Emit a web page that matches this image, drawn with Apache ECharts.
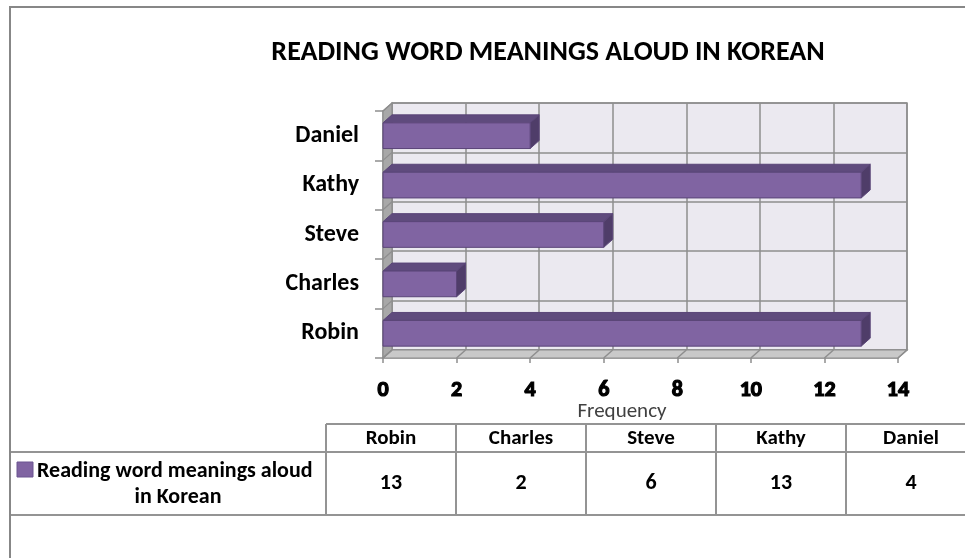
<!DOCTYPE html>
<html>
<head>
<meta charset="utf-8">
<script src="https://cdn.jsdelivr.net/npm/echarts@6/dist/echarts.min.js"></script>
<style>
html,body{margin:0;padding:0;background:#fff;}
#chart{width:965px;height:558px;}
</style>
</head>
<body>
<div id="chart"></div>
<script>
const categories = ['Robin', 'Charles', 'Steve', 'Kathy', 'Daniel'];
const values = [13, 2, 6, 13, 4];
const xTicks = [0, 2, 4, 6, 8, 10, 12, 14];
const seriesName = 'Reading word meanings aloud in Korean';
const legendLines = ['Reading word meanings aloud', 'in Korean'];
const titleText = 'READING WORD MEANINGS ALOUD IN KOREAN';
const axisTitle = 'Frequency';

const FONT = 'Carlito, Lato, "Open Sans", sans-serif';
const DX = 9, DY = 8;
const GRIDC = '#8e8e8e';
const xMin = xTicks[0], xMax = xTicks[xTicks.length - 1], xStep = xTicks[1] - xTicks[0];

const chart = echarts.init(document.getElementById('chart'));

function renderWalls(params, api) {
  const cs = params.coordSys;
  const L = cs.x, T = cs.y, R = cs.x + cs.width, B = cs.y + cs.height;
  const children = [];
  children.push({type: 'polygon', shape: {points: [[L, T], [L + DX, T - DY], [L + DX, B - DY], [L, B]]},
    style: {fill: '#a8a8a8', stroke: GRIDC, lineWidth: 1.2}});
  children.push({type: 'polygon', shape: {points: [[L, B], [L + DX, B - DY], [R + DX, B - DY], [R, B]]},
    style: {fill: '#c9c9c9', stroke: GRIDC, lineWidth: 1.2}});
  xTicks.forEach(function (t) {
    const p = api.coord([t, 0]);
    children.push({type: 'line', shape: {x1: p[0], y1: B, x2: p[0] + DX, y2: B - DY},
      style: {stroke: GRIDC, lineWidth: 1.5}});
  });
  const band = api.size([0, 1])[1];
  for (let i = 0; i <= categories.length; i++) {
    const y = B - i * band;
    children.push({type: 'line', shape: {x1: L, y1: y, x2: L + DX, y2: y - DY},
      style: {stroke: GRIDC, lineWidth: 1.2}});
  }
  return {type: 'group', children: children};
}

function renderBar(params, api) {
  const val = api.value(0), cat = api.value(1);
  const p0 = api.coord([0, cat]);
  const p1 = api.coord([val, cat]);
  const band = api.size([0, 1])[1];
  const h = band * 0.52;
  const x0 = p0[0], x1 = p1[0];
  const yt = p0[1] - h / 2, yb = p0[1] + h / 2;
  const edge = '#5a4578';
  return {
    type: 'group',
    children: [
      {type: 'polygon', shape: {points: [[x0, yt], [x1, yt], [x1 + DX, yt - DY], [x0 + DX, yt - DY]]},
        style: {fill: '#5f4b7d', stroke: edge, lineWidth: 1}},
      {type: 'polygon', shape: {points: [[x1, yt], [x1 + DX, yt - DY], [x1 + DX, yb - DY], [x1, yb]]},
        style: {fill: '#4f3d69', stroke: edge, lineWidth: 1}},
      {type: 'rect', shape: {x: x0, y: yt, width: x1 - x0, height: h},
        style: {fill: '#8064a2', stroke: edge, lineWidth: 1}}
    ]
  };
}

const tbl = {colX0: 326, colW: 130, top: 424, mid: 452, bot: 515, left: 10, right: 970};
const graphics = [];
const lineStyle = {stroke: '#949494', lineWidth: 2};
const TFONT = 'bold 22px ' + FONT;
graphics.push({type: 'rect', shape: {x: 10, y: 7, width: 1000, height: 600},
  style: {fill: null, stroke: '#878787', lineWidth: 2}, z: 10});
graphics.push({type: 'line', shape: {x1: tbl.colX0, y1: tbl.top, x2: tbl.right, y2: tbl.top}, style: lineStyle});
graphics.push({type: 'line', shape: {x1: tbl.left, y1: tbl.mid, x2: tbl.right, y2: tbl.mid}, style: lineStyle});
graphics.push({type: 'line', shape: {x1: tbl.left, y1: tbl.bot, x2: tbl.right, y2: tbl.bot}, style: lineStyle});
categories.forEach(function (c, i) {
  const x = tbl.colX0 + i * tbl.colW;
  graphics.push({type: 'line', shape: {x1: x, y1: tbl.top, x2: x, y2: tbl.bot}, style: lineStyle});
  graphics.push({type: 'text', x: x + tbl.colW / 2, y: (tbl.top + tbl.mid) / 2 + 1,
    style: {text: c, fill: '#000', font: 'bold 21px ' + FONT, textAlign: 'center', textVerticalAlign: 'middle'}});
  graphics.push({type: 'text', x: x + tbl.colW / 2, y: (tbl.mid + tbl.bot) / 2,
    style: {text: String(values[i]), fill: '#000', font: TFONT, textAlign: 'center', textVerticalAlign: 'middle'}});
});
graphics.push({type: 'rect', shape: {x: 17, y: 462, width: 16, height: 15},
  style: {fill: '#8064a2', stroke: '#6a5490', lineWidth: 1}});
graphics.push({type: 'text', x: 37, y: 471,
  style: {text: legendLines[0], fill: '#000', font: 'bold 22px ' + FONT, textAlign: 'left', textVerticalAlign: 'middle'}});
graphics.push({type: 'text', x: 178, y: 497,
  style: {text: legendLines[1], fill: '#000', font: 'bold 22px ' + FONT, textAlign: 'center', textVerticalAlign: 'middle'}});
graphics.push({type: 'text', x: 548, y: 53,
  style: {text: titleText, fill: '#000', font: 'bold 28px ' + FONT, textAlign: 'center', textVerticalAlign: 'middle'}});
graphics.push({type: 'text', x: 622, y: 412,
  style: {text: axisTitle, fill: '#404040', font: '21px ' + FONT, textAlign: 'center', textVerticalAlign: 'middle'}});

const option = {
  animation: false,
  backgroundColor: '#ffffff',
  grid: [
    {left: 383, top: 111, width: 515, height: 247},
    {left: 392, top: 103, width: 515, height: 247, show: true, backgroundColor: '#ebe9f0', borderColor: GRIDC, borderWidth: 1.5}
  ],
  xAxis: [
    {type: 'value', gridIndex: 0, min: xMin, max: xMax, interval: xStep,
      axisLine: {show: true, lineStyle: {color: GRIDC, width: 1.5}},
      axisTick: {show: true, length: 5, lineStyle: {color: GRIDC, width: 1.5}},
      splitLine: {show: false},
      axisLabel: {margin: 21, color: '#000', fontWeight: 900, fontSize: 22, fontFamily: FONT,
        textBorderColor: '#000', textBorderWidth: 1.2}},
    {type: 'value', gridIndex: 1, min: xMin, max: xMax, interval: xStep,
      axisLine: {show: false}, axisTick: {show: false}, axisLabel: {show: false},
      splitLine: {show: true, lineStyle: {color: GRIDC, width: 1.5}}}
  ],
  yAxis: [
    {type: 'category', gridIndex: 0, data: categories,
      axisLine: {show: true, lineStyle: {color: GRIDC, width: 1.5}},
      axisTick: {show: true, length: 8, lineStyle: {color: GRIDC, width: 1.5}},
      axisLabel: {margin: 24, color: '#000', fontWeight: 'bold', fontSize: 24, fontFamily: FONT}},
    {type: 'category', gridIndex: 1, data: categories,
      axisLine: {show: false}, axisTick: {show: false}, axisLabel: {show: false},
      splitLine: {show: true, interval: 0, lineStyle: {color: GRIDC, width: 1.5}}}
  ],
  series: [
    {type: 'custom', name: 'walls', xAxisIndex: 0, yAxisIndex: 0, z: 1,
      renderItem: renderWalls, data: [[0, 0]], encode: {x: 0, y: 1}, silent: true},
    {type: 'custom', name: seriesName, xAxisIndex: 0, yAxisIndex: 0, z: 3,
      renderItem: renderBar, encode: {x: 0, y: 1},
      data: values.map(function (v, i) { return [v, i]; })}
  ],
  graphic: graphics
};
chart.setOption(option);
</script>
</body>
</html>
